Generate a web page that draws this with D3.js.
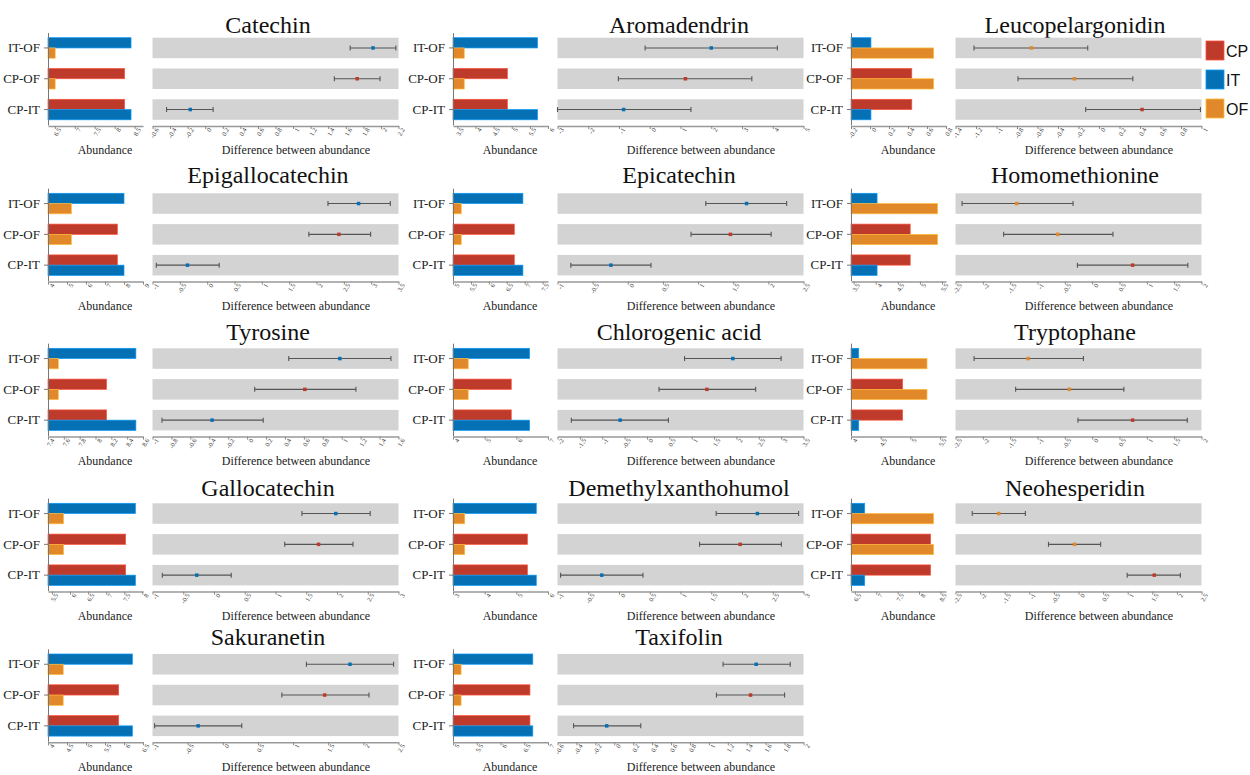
<!DOCTYPE html>
<html><head><meta charset="utf-8">
<script src="https://cdn.jsdelivr.net/npm/d3@7"></script>
<style>body{margin:0;background:#fff}svg{display:block}</style>
</head><body><svg id="chart" width="1250" height="775"></svg>
<script>
// ---------------- data ----------------
const compounds = ["Catechin","Aromadendrin","Leucopelargonidin","Epigallocatechin","Epicatechin","Homomethionine",
  "Tyrosine","Chlorogenic acid","Tryptophane","Gallocatechin","Demethylxanthohumol","Neohesperidin","Sakuranetin","Taxifolin"];
const comparisons = ["IT-OF","CP-OF","CP-IT"];
const groups = ["CP","IT","OF"];
const comparisonPairs = [["IT","OF"],["CP","OF"],["CP","IT"]];

const abundanceCP = [8.25, 4.88, 0.44, 7.65, 6.71, 4.78, 8.14, 5.84, 4.87, 7.54, 5.35, 8.27, 5.86, 6.62];
const abundanceIT = [8.41, 5.71, 0.01, 8.00, 6.95, 4.03, 8.51, 6.42, 4.13, 7.81, 5.63, 6.73, 6.22, 6.68];
const abundanceOF = [6.51, 3.69, 0.67, 5.23, 5.23, 5.40, 7.53, 4.48, 5.28, 5.82, 3.37, 8.34, 4.40, 5.17];

const abundanceDomain = [[6.33,8.71],[3.38,6.0],[-0.2,0.8],[4,9],[5,7.65],[3.44,5.59],[7.4,8.6],[4,7],[4,5.6],[5.39,8.02],[3,6],[6.41,8.63],[4,6.5],[5,7]];
const abundanceTicks = [
  [6.5,7,7.5,8,8.5],[3.5,4,4.5,5,5.5,6],[-0.2,0,0.2,0.4,0.6,0.8],[4,5,6,7,8,9],[5,5.5,6,6.5,7,7.5],[3.5,4,4.5,5,5.5],
  [7.4,7.6,7.8,8,8.2,8.4,8.6],[4,5,6,7],[4,4.5,5,5.5],[5.5,6,6.5,7,7.5,8],[3,4,5,6],[6.5,7,7.5,8,8.5],[4,4.5,5,5.5,6,6.5],[5,5.5,6,6.5,7]];

const diffDomain = [[-0.6,2.2],[-3,5],[-1.4,1],[-1,3.5],[-1,2.5],[-2.5,2],[-1,1.6],[-2,3.5],[-2.5,2],[-1,3],[-1,3],[-2.5,2.5],[-1,2.5],[-0.6,2]];
const diffTickStep = [0.2,1,0.2,0.5,0.5,0.5,0.2,0.5,0.5,0.5,0.5,0.5,0.5,0.2];

// [IT-OF, CP-OF, CP-IT]
const diffMean = [[1.91,1.73,-0.17],[2.0,1.16,-0.85],[-0.66,-0.24,0.42],[2.77,2.41,-0.36],[1.69,1.46,-0.24],[-1.38,-0.63,0.74],
  [0.98,0.61,-0.37],[1.92,1.34,-0.60],[-1.17,-0.42,0.74],[1.98,1.70,-0.28],[2.25,1.97,-0.28],[-1.62,-0.08,1.54],[1.81,1.45,-0.35],[1.50,1.44,-0.08]];
const diffLow = [[1.65,1.47,-0.44],[-0.15,-1.02,-3.0],[-1.22,-0.79,-0.13],[2.21,1.86,-0.93],[1.11,0.90,-0.81],[-2.38,-1.62,-0.27],
  [0.44,0.08,-0.90],[0.84,0.27,-1.69],[-2.16,-1.40,-0.26],[1.43,1.15,-0.84],[1.58,1.31,-0.95],[-2.16,-0.61,0.99],[1.19,0.84,-0.97],[1.15,1.08,-0.43]];
const diffHigh = [[2.17,1.99,0.09],[4.15,3.32,1.34],[-0.11,0.33,0.99],[3.35,2.99,0.22],[2.26,2.04,0.33],[-0.35,0.38,1.75],
  [1.52,1.15,0.17],[3.0,2.43,0.48],[-0.16,0.58,1.74],[2.54,2.26,0.28],[2.92,2.64,0.39],[-1.08,0.45,2.07],[2.43,2.08,0.27],[1.86,1.80,0.28]];

// ---------------- styles / layout ----------------
const groupColor = {CP:"#BE3B2B", IT:"#0670B5", OF:"#E1882A"};
const abundanceOf = {CP:abundanceCP, IT:abundanceIT, OF:abundanceOF};
const serif = "'Times New Roman','Liberation Serif',serif";
const colX = [0, 405, 803];
const rowTop = [37.7, 193.3, 348.3, 503.3, 654];
const titleBase = [33, 183, 340, 496, 645];
const titleX = [268, 679, 1075];

const svg = d3.select("#chart");
const fmt = d => String(+(+d).toFixed(2));

compounds.forEach((name, i) => {
  const col = i % 3, row = Math.floor(i / 3);
  const ox = colX[col], top = rowTop[row];
  const axisY = top + 88.3;
  const g = svg.append("g");

  const y = d3.scaleBand().domain(comparisons).range([top - 5.15, top + 87.25])
    .paddingInner(0.334).paddingOuter(0.167);
  const bw = y.bandwidth();

  // title
  g.append("text").attr("x", titleX[col]).attr("y", titleBase[row]).attr("text-anchor", "middle")
    .style("font-family", serif).style("font-size", "24px").attr("fill", "#111").text(name);

  // ---- abundance bars ----
  const xb = d3.scaleLinear().domain(abundanceDomain[i]).range([ox + 48, ox + 143]);
  comparisons.forEach((c, k) => {
    comparisonPairs[k].forEach((grp, j) => {
      const v = abundanceOf[grp][i];
      g.append("rect")
        .attr("x", xb(abundanceDomain[i][0]))
        .attr("y", y(c) + j * bw / 2)
        .attr("width", Math.max(0, xb(v) - xb(abundanceDomain[i][0])))
        .attr("height", bw / 2)
        .attr("fill", groupColor[grp])
        .attr("stroke", d3.color(groupColor[grp]).brighter(0.9))
        .attr("stroke-width", 0.7);
    });
  });
  const ya = g.append("g").attr("transform", `translate(${ox + 48},0)`)
    .call(d3.axisLeft(y).tickSize(4).tickSizeOuter(0).tickPadding(4));
  ya.select(".domain").attr("stroke", "#777");
  ya.selectAll(".tick line").attr("stroke", "#777");
  ya.selectAll(".tick text").style("font-family", serif).style("font-size", "13px").attr("fill", "#222");

  const xa = g.append("g").attr("transform", `translate(0,${axisY})`)
    .call(d3.axisBottom(xb).tickValues(abundanceTicks[i]).tickSize(3).tickSizeOuter(0).tickFormat(fmt));
  xa.select(".domain").attr("stroke", "#999").attr("stroke-width", 1.5);
  xa.selectAll(".tick line").attr("stroke", "#888");
  xa.selectAll(".tick text").style("font-family", serif).style("font-size", "6.5px").attr("fill", "#333")
    .attr("text-anchor", "end").attr("dy", "0.3em").attr("y", 5).attr("x", 0)
    .attr("transform", "rotate(-60)");

  g.append("text").attr("x", ox + 105).attr("y", top + 116.5).attr("text-anchor", "middle")
    .style("font-family", serif).style("font-size", "12px").attr("fill", "#222").text("Abundance");

  // ---- difference panel ----
  const xd = d3.scaleLinear().domain(diffDomain[i]).range([ox + 152.5, ox + 398.5]);
  comparisons.forEach((c, k) => {
    g.append("rect").attr("x", xd.range()[0]).attr("y", y(c))
      .attr("width", xd.range()[1] - xd.range()[0]).attr("height", bw)
      .attr("fill", "#D3D3D3");
  });
  comparisons.forEach((c, k) => {
    const cy = y(c) + bw / 2;
    const m = diffMean[i][k], lo = diffLow[i][k], hi = diffHigh[i][k];
    const pair = comparisonPairs[k];
    const col2 = groupColor[m >= 0 ? pair[0] : pair[1]];
    g.append("line").attr("x1", xd(lo)).attr("x2", xd(hi)).attr("y1", cy).attr("y2", cy)
      .attr("stroke", "#555").attr("stroke-width", 1.1);
    [lo, hi].forEach(v => g.append("line").attr("x1", xd(v)).attr("x2", xd(v))
      .attr("y1", cy - 2.5).attr("y2", cy + 2.5).attr("stroke", "#555").attr("stroke-width", 1.1));
    g.append("rect").attr("x", xd(m) - 1.75).attr("y", cy - 1.75).attr("width", 3.5).attr("height", 3.5)
      .attr("fill", col2);
  });
  const [d0, d1] = diffDomain[i];
  const dticks = d3.range(0, Math.round((d1 - d0) / diffTickStep[i]) + 1).map(n => +(d0 + n * diffTickStep[i]).toFixed(2));
  const xda = g.append("g").attr("transform", `translate(0,${axisY})`)
    .call(d3.axisBottom(xd).tickValues(dticks).tickSize(3).tickSizeOuter(0).tickFormat(fmt));
  xda.select(".domain").attr("stroke", "#999").attr("stroke-width", 1.5);
  xda.selectAll(".tick line").attr("stroke", "#888");
  xda.selectAll(".tick text").style("font-family", serif).style("font-size", "6.5px").attr("fill", "#333")
    .attr("text-anchor", "end").attr("dy", "0.3em").attr("y", 5).attr("x", 0)
    .attr("transform", "rotate(-60)");

  g.append("text").attr("x", ox + 296).attr("y", top + 116.5).attr("text-anchor", "middle")
    .style("font-family", serif).style("font-size", "12px").attr("fill", "#222").text("Difference between abundance");
});

// ---- legend ----
const lg = svg.append("g");
groups.forEach((grp, j) => {
  lg.append("rect").attr("x", 1206).attr("y", 41 + j * 29).attr("width", 18).attr("height", 19)
    .attr("fill", groupColor[grp]).attr("stroke", d3.color(groupColor[grp]).brighter(0.9)).attr("stroke-width", 0.8);
  lg.append("text").attr("x", 1226).attr("y", 56.5 + j * 29)
    .style("font-family", "'Liberation Sans',Arial,sans-serif").style("font-size", "16px").attr("fill", "#111").text(grp);
});
</script></body></html>
